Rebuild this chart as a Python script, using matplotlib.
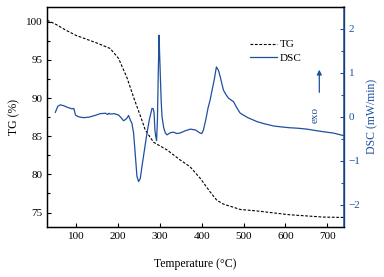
import matplotlib
matplotlib.use("Agg")
import matplotlib.pyplot as plt
from matplotlib.ticker import MultipleLocator

plt.rcParams['font.family'] = ['Liberation Serif', 'DejaVu Serif']
plt.rcParams['mathtext.fontset'] = 'stix'

# TG curve (%)
tg_temp = [30, 50, 75, 100, 125, 150, 181, 201, 221, 237, 253, 265, 285, 317, 348, 372, 396, 420, 436, 452, 492, 532, 611, 691, 740]
tg_val = [100.2, 99.7, 98.9, 98.2, 97.7, 97.2, 96.5, 95.2, 92.7, 90.1, 87.7, 85.8, 84.2, 83.2, 81.9, 81.0, 79.5, 77.7, 76.6, 76.1, 75.4, 75.2, 74.7, 74.4, 74.35]

# DSC curve (mW/min)
dsc_temp = [50, 52, 56, 62, 70, 80, 90, 94, 96, 98, 105, 117, 130, 145, 157, 170, 175, 178, 181, 190, 201, 207, 213, 218, 222, 225, 229, 233, 237, 241, 245, 249, 253, 257, 263, 269, 275, 281, 284, 286, 288, 290, 292, 294, 296, 298, 299, 301, 303, 305, 309, 313, 317, 325, 333, 340, 348, 360, 373, 385, 396, 400, 404, 410, 415, 420, 425, 430, 435, 440, 444, 448, 452, 458, 464, 470, 476, 484, 492, 510, 532, 550, 572, 590, 611, 630, 651, 670, 691, 715, 740]
dsc_val = [0.10, 0.15, 0.24, 0.27, 0.25, 0.21, 0.18, 0.19, 0.12, 0.04, 0.00, -0.02, -0.01, 0.03, 0.07, 0.08, 0.05, 0.08, 0.06, 0.07, 0.04, -0.02, -0.09, -0.06, -0.02, 0.03, -0.07, -0.15, -0.37, -0.85, -1.35, -1.47, -1.40, -1.13, -0.75, -0.37, -0.05, 0.19, 0.18, 0.08, -0.3, -0.45, -0.54, -0.07, 1.0, 1.85, 1.5, 0.91, 0.35, 0.0, -0.25, -0.37, -0.41, -0.36, -0.35, -0.38, -0.37, -0.32, -0.28, -0.30, -0.37, -0.38, -0.30, -0.05, 0.20, 0.38, 0.62, 0.85, 1.13, 1.05, 0.91, 0.75, 0.60, 0.50, 0.42, 0.38, 0.34, 0.20, 0.08, -0.02, -0.11, -0.16, -0.21, -0.23, -0.25, -0.26, -0.28, -0.31, -0.34, -0.37, -0.43]

blue = '#1f4fa0'

fig = plt.figure(figsize=(3.84, 2.77), dpi=100)
ax = fig.add_axes([0.1224, 0.1805, 0.7734, 0.796])
ax2 = ax.twinx()

l1, = ax.plot(tg_temp, tg_val, color='black', linestyle=(0, (2.5, 1.5)), linewidth=0.8, label='TG')
l2, = ax2.plot(dsc_temp, dsc_val, color=blue, linewidth=0.9, label='DSC')

ax.set_xlim(30, 740)
ax.set_ylim(73.1, 102)
ax2.set_ylim(-2.5, 2.5)

ax.xaxis.set_major_locator(MultipleLocator(100))
ax.yaxis.set_major_locator(MultipleLocator(5))
ax.yaxis.set_minor_locator(MultipleLocator(2.5))
ax2.yaxis.set_major_locator(MultipleLocator(1))
ax2.yaxis.set_minor_locator(MultipleLocator(0.5))

ax.tick_params(axis='both', which='both', direction='in', labelsize=8, length=3, width=0.8)
ax.tick_params(axis='y', which='minor', length=2)
ax.tick_params(axis='x', top=False)
ax2.tick_params(axis='y', which='both', direction='in', labelsize=8, length=3, width=0.8,
                colors=blue, labelcolor=blue)
ax2.tick_params(axis='y', which='minor', length=2)

for s in ax.spines.values():
    s.set_linewidth(0.9)
for name, s in ax2.spines.items():
    s.set_linewidth(0.9)
ax2.spines['right'].set_color(blue)
ax2.spines['right'].set_linewidth(1.1)

ax.set_xlabel('Temperature (°C)', fontsize=8.5, labelpad=12)
ax.set_ylabel('TG (%)', fontsize=8.5, labelpad=4)
ax2.set_ylabel('DSC (mW/min)', fontsize=8.5, color=blue, labelpad=4)

ax.legend(handles=[l1, l2], loc='upper left', bbox_to_anchor=(0.65, 0.895), frameon=False,
          fontsize=8, handlelength=2.4, handletextpad=0.3, labelspacing=0.35)

ax2.annotate('', xy=(681, 1.13), xytext=(681, 0.49),
             arrowprops=dict(arrowstyle='-|>', color=blue, lw=0.9, mutation_scale=7))
ax2.text(671, 0.04, 'exo', rotation=90, color=blue, fontsize=8, ha='center', va='center')

fig.savefig('out.png', dpi=100)
